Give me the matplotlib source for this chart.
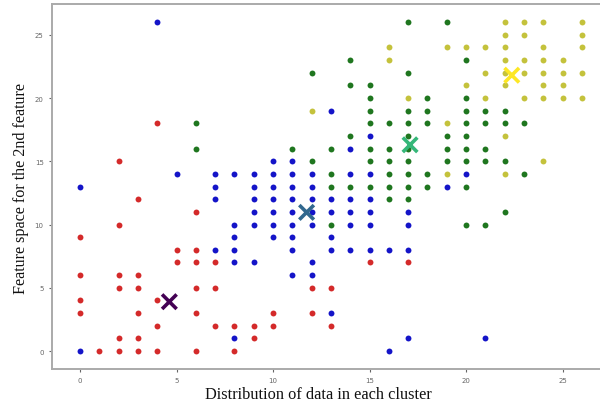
import matplotlib
matplotlib.use("Agg")
import matplotlib.pyplot as plt

# ---- data (integer grid points per cluster) ----
red_x = [4, 2, 3, 6, 2, 0, 5, 6, 5, 6, 7, 0, 2, 3, 2, 3, 6, 7, 0, 4, 0, 3, 6, 4, 7, 8, 2, 3, 1, 2, 3, 4, 6, 8,
         15, 17, 12, 13, 10, 12, 9, 10, 13, 9]
red_y = [18, 15, 12, 11, 10, 9, 8, 8, 7, 7, 7, 6, 6, 6, 5, 5, 5, 5, 4, 4, 3, 3, 3, 2, 2, 2, 1, 1, 0, 0, 0, 0, 0, 0,
         7, 7, 5, 5, 3, 3, 2, 2, 2, 1]

blue_x = [4, 13, 15, 14, 10, 11, 5, 7, 8, 9, 10, 11, 12, 14, 15, 20, 0, 7, 9, 10, 11, 12, 19,
          7, 9, 10, 11, 12, 13, 14, 15, 9, 10, 11, 12, 13, 14, 15, 17,
          8, 9, 10, 11, 12, 14, 15, 17, 8, 10, 11, 13, 7, 8, 11, 13, 14, 15, 16, 17,
          8, 9, 12, 11, 12, 13, 8, 17, 21, 0, 16]
blue_y = [26, 19, 17, 16, 15, 15, 14, 14, 14, 14, 14, 14, 14, 14, 14, 14, 13, 13, 13, 13, 13, 13, 13,
          12, 12, 12, 12, 12, 12, 12, 12, 11, 11, 11, 11, 11, 11, 11, 11,
          10, 10, 10, 10, 10, 10, 10, 10, 9, 9, 9, 9, 8, 8, 8, 8, 8, 8, 8, 8,
          7, 7, 7, 6, 6, 3, 1, 1, 1, 0, 0]

green_x = [17, 19, 14, 20, 12, 17, 14, 15, 15, 18, 20, 15, 17, 18, 20, 21, 22,
           6, 15, 16, 17, 18, 20, 21, 22, 23, 14, 17, 19, 20,
           6, 11, 13, 15, 16, 17, 19, 20, 21, 12, 15, 16, 17, 19, 20, 21, 22,
           13, 16, 17, 18, 23, 13, 14, 15, 16, 17, 18, 20, 16, 17, 22, 13, 20, 21]
green_y = [26, 26, 23, 23, 22, 22, 21, 21, 20, 20, 20, 19, 19, 19, 19, 19, 19,
           18, 18, 18, 18, 18, 18, 18, 18, 18, 17, 17, 17, 17,
           16, 16, 16, 16, 16, 16, 16, 16, 16, 15, 15, 15, 15, 15, 15, 15, 15,
           14, 14, 14, 14, 14, 13, 13, 13, 13, 13, 13, 13, 12, 12, 11, 10, 10, 10]

yellow_x = [22, 23, 24, 26, 22, 23, 26, 16, 19, 20, 21, 22, 24, 26, 16, 22, 23, 24, 25,
            21, 22, 23, 24, 25, 26, 20, 22, 24, 25, 17, 21, 23, 24, 25, 26, 12, 19, 22, 24, 19, 22]
yellow_y = [26, 26, 26, 26, 25, 25, 25, 24, 24, 24, 24, 24, 24, 24, 23, 23, 23, 23, 23,
            22, 22, 22, 22, 22, 22, 21, 21, 21, 21, 20, 20, 20, 20, 20, 20, 19, 18, 17, 15, 14, 14]

centroid_x = [4.63, 11.74, 17.1, 22.37]
centroid_y = [3.9, 10.96, 16.3, 21.8]
centroid_colors = ["#440154", "#31688e", "#35b779", "#fde725"]

x_label = "Distribution of data in each cluster"
y_label = "Feature space for the 2nd feature"

# ---- figure ----
fig = plt.figure(figsize=(6.0, 4.1), dpi=100)
ax = fig.add_axes([52 / 600, 1 - 370 / 410, 548 / 600, 365 / 410])

dot = 18
ax.scatter(red_x, red_y, s=dot, color="#d42a2a", linewidths=0, zorder=2)
ax.scatter(blue_x, blue_y, s=dot, color="#1414c8", linewidths=0, zorder=2)
ax.scatter(green_x, green_y, s=dot, color="#1f761f", linewidths=0, zorder=2)
ax.scatter(yellow_x, yellow_y, s=dot, color="#c4c23c", linewidths=0, zorder=2)
ax.scatter(centroid_x, centroid_y, s=110, marker="x", c=centroid_colors, linewidths=2.6, zorder=3)

ax.set_xlim(-1.45, 26.94)
ax.set_ylim(-1.42, 27.43)
ax.set_xticks([0, 5, 10, 15, 20, 25])
ax.set_yticks([0, 5, 10, 15, 20, 25])
ax.tick_params(labelsize=5, colors="#666666", length=2.5, width=0.8)

for side in ["left", "bottom", "top"]:
    ax.spines[side].set_color("#aaaaaa")
    ax.spines[side].set_linewidth(1.4)
ax.spines["right"].set_visible(False)

ax.set_xlabel(x_label, family="Liberation Serif", fontsize=11.8, color="#111111")
ax.set_ylabel(y_label, family="Liberation Serif", fontsize=11.6, color="#111111")
ax.xaxis.set_label_coords((318 - 52) / 548, (370 - 387) / 365)
ax.yaxis.set_label_coords((29 - 52) / 548, (370 - 189) / 365)

fig.savefig("out.png", dpi=100)
